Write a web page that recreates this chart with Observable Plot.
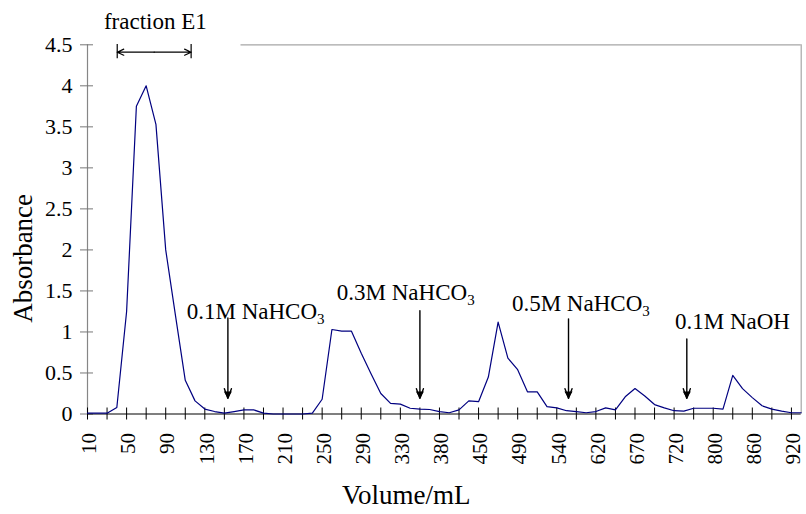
<!DOCTYPE html>
<html>
<head>
<meta charset="utf-8">
<script src="https://cdn.jsdelivr.net/npm/d3@7"></script>
<script src="https://cdn.jsdelivr.net/npm/@observablehq/plot@0.6"></script>
<style>
  body { margin: 0; background: #fff; }
  svg { display: block; }
</style>
</head>
<body>
<div id="chart"></div>
<script>
// Elution volume printed under every fourth fraction
const volumeLabels = ["10", "50", "90", "130", "170", "210", "250", "290", "330", "380",
                      "450", "490", "540", "620", "670", "720", "800", "860", "920"];

// Absorbance of each collected fraction, in collection order
const absorbance = [
  0.01, 0.01, 0.01, 0.08, 1.25, 3.75, 4.0, 3.53, 2.0, 1.2,
  0.41, 0.16, 0.06, 0.03, 0.01, 0.03, 0.05, 0.05, 0.01, 0,
  0, 0, 0, 0.01, 0.18, 1.03, 1.01, 1.01, 0.74, 0.49,
  0.25, 0.13, 0.12, 0.07, 0.06, 0.055, 0.03, 0.015, 0.05, 0.16,
  0.15, 0.45, 1.12, 0.68, 0.54, 0.27, 0.27, 0.09, 0.075, 0.04,
  0.03, 0.015, 0.03, 0.075, 0.05, 0.21, 0.31, 0.22, 0.115, 0.075,
  0.04, 0.035, 0.07, 0.07, 0.07, 0.06, 0.47, 0.31, 0.2, 0.1,
  0.06, 0.035, 0.015, 0.015
];

const yTicks = [0, 0.5, 1, 1.5, 2, 2.5, 3, 3.5, 4, 4.5];

// Eluent changes: where each buffer starts (fraction index) and where its label sits
const eluents = ["0.1M NaHCO3", "0.3M NaHCO3", "0.5M NaHCO3", "0.1M NaOH"];
const eluentAt = [14.36, 34.0, 49.2, 61.3];
const eluentLabelX = [17.2, 32.55, 50.46, 65.97];
const eluentLabelY = [1.243, 1.474, 1.344, 1.122];
const eluentArrowTop = [1.17, 1.26, 1.16, 0.915];
const eluentArrowTip = 0.19;

// Pooled fraction E1
const e1Start = 3.04, e1End = 10.6, e1Level = 4.41;

const last = absorbance.length - 1;
const fractions = absorbance.map((a, i) => ({i, a}));
const eluentRows = eluents.map((name, k) => ({
  name, at: eluentAt[k], lx: eluentLabelX[k], ly: eluentLabelY[k], top: eluentArrowTop[k]
}));

const serif = "'Liberation Serif', 'Times New Roman', serif";

const chart = Plot.plot({
  width: 806,
  height: 514,
  marginLeft: 87,
  marginRight: 5.3,
  marginTop: 44.3,
  marginBottom: 100.5,
  style: {fontFamily: serif, fontSize: "21px", color: "black", background: "white"},
  x: {domain: [0, last]},
  y: {domain: [0, 4.5]},
  marks: [
    // frame: grey top and right edges
    Plot.ruleY([4.5], {x1: 15.7, x2: last, stroke: "#a6a6a6", strokeWidth: 1.2}),
    Plot.ruleX([last], {y1: 0, y2: 4.5, stroke: "#a6a6a6", strokeWidth: 1.2}),
    // value axis
    Plot.ruleX([0], {y1: 0, y2: 4.5, stroke: "#868686", strokeWidth: 1.2}),
    Plot.axisY(yTicks, {anchor: "left", tickSize: 13, dx: 6, tickFormat: () => "", label: null, stroke: "#777"}),
    Plot.axisY(yTicks, {anchor: "left", tickSize: 0, tickPadding: 15, tickFormat: d => String(d),
      label: null, fontSize: 22, fill: "black"}),
    // category axis
    Plot.ruleY([0], {x1: 0, x2: last, stroke: "black", strokeWidth: 1.2}),
    Plot.axisX(d3.range(0, last + 1, 2), {anchor: "bottom", tickSize: 12, dy: -6, tickFormat: () => "", label: null, stroke: "black"}),
    Plot.axisX(d3.range(0, last, 4), {
      anchor: "bottom", tickSize: 0, tickPadding: 19, tickRotate: -90,
      tickFormat: i => volumeLabels[i / 4], label: null, fontSize: 21, fill: "black", dx: 2
    }),
    // axis titles
    Plot.text(["Absorbance"], {frameAnchor: "left", textAnchor: "middle", lineAnchor: "middle",
      dx: -64, dy: 29, rotate: -90, fontSize: 27, fill: "black"}),
    Plot.text(["Volume/mL"], {frameAnchor: "bottom", textAnchor: "middle", lineAnchor: "middle",
      dx: -38, dy: 81, fontSize: 27, fill: "black"}),
    // elution profile
    Plot.line(fractions, {x: "i", y: "a", stroke: "#000080", strokeWidth: 1.2}),
    // eluent change arrows and labels
    Plot.arrow(eluentRows, {x1: "at", x2: "at", y1: "top", y2: () => eluentArrowTip,
      stroke: "black", strokeWidth: 1.4, headLength: 11, headAngle: 40}),
    Plot.dot(eluentRows, {x: "at", y: () => eluentArrowTip, symbol: "triangle", rotate: 180,
      r: 3, fill: "black", dy: -4.6}),
    Plot.text(eluentRows, {x: "lx", y: "ly", text: "name", fontSize: 23, fill: "black"}),
    // fraction E1 span
    Plot.arrow([e1Start, e1End], {x1: (e1Start + e1End) / 2, x2: d => d, y1: e1Level, y2: e1Level,
      stroke: "black", strokeWidth: 1.2, headLength: 9, headAngle: 50}),
    Plot.ruleX([e1Start, e1End], {y1: 4.33, y2: 4.505, stroke: "black", strokeWidth: 1.2}),
    Plot.text(["fraction E1"], {x: 6.94, y: 4.787, fontSize: 23, fill: "black"})
  ]
});

// chemical formulas: render the trailing "3" of NaHCO3 as a subscript
d3.select(chart).selectAll("text").each(function () {
  const t = this.textContent;
  if (/NaHCO3$/.test(t)) {
    this.textContent = t.slice(0, -1);
    d3.select(this).append("tspan").attr("font-size", 15).attr("dy", 5).text("3");
  }
});

document.getElementById("chart").append(chart);
</script>
</body>
</html>
